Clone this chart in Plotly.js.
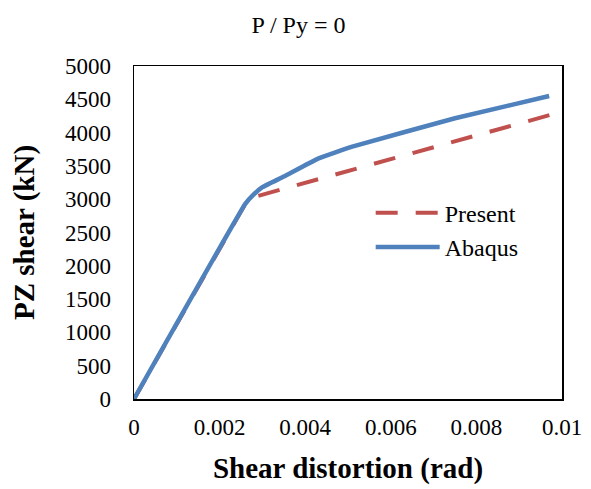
<!DOCTYPE html>
<html>
<head>
<meta charset="utf-8">
<script src="https://cdn.plot.ly/plotly-3.0.1.min.js"></script>
<style>html,body{margin:0;padding:0;background:#fff;}#chart{width:591px;height:489px;}</style>
</head>
<body>
<div id="chart"></div>
<script>
const presentX = [0, 0.0026, 0.0029, 0.01];
const presentY = [0, 2930, 3050, 4314];
const abaqusX = [0, 0.0026, 0.00278, 0.0030, 0.0035, 0.0043, 0.0051, 0.0075, 0.0097];
const abaqusY = [0, 2930, 3060, 3180, 3340, 3610, 3790, 4215, 4550];
const xTicks = [0, 0.002, 0.004, 0.006, 0.008, 0.01];
const xTickLabels = ['0', '0.002', '0.004', '0.006', '0.008', '0.01'];
const yTicks = [0, 500, 1000, 1500, 2000, 2500, 3000, 3500, 4000, 4500, 5000];

const FONT = '"Times New Roman", "Liberation Serif", serif';

const traces = [
  {x: presentX, y: presentY, name: 'Present', mode: 'lines',
   line: {color: '#C0504D', width: 4, dash: '22px,18px'}},
  {x: abaqusX, y: abaqusY, name: 'Abaqus', mode: 'lines',
   line: {color: '#4F81BD', width: 4.5, shape: 'spline', smoothing: 0.3}}
];

const layout = {
  width: 591, height: 489,
  margin: {l: 134, r: 28.5, t: 66, b: 90},
  paper_bgcolor: '#fff', plot_bgcolor: '#fff',
  font: {family: FONT, size: 23, color: '#000'},
  title: {text: 'P / Py = 0', x: 0.505, xref: 'container', y: 1 - 25/489, yref: 'container', yanchor: 'middle',
          font: {family: FONT, size: 24, color: '#000'}},
  xaxis: {range: [0, 0.01], tickvals: xTicks, ticktext: xTickLabels, showgrid: false, zeroline: false,
          showline: true, mirror: true, linecolor: '#000', linewidth: 1.5, ticks: '',
          tickfont: {family: FONT, size: 23}, ticklabelstandoff: 7,
          title: {text: '<b>Shear distortion (rad)</b>', font: {family: FONT, size: 29}, standoff: 18}},
  yaxis: {range: [0, 5000], tickvals: yTicks, showgrid: false, zeroline: false,
          showline: true, mirror: true, linecolor: '#000', linewidth: 1.5, ticks: '',
          tickfont: {family: FONT, size: 23}, ticklabelstandoff: 17,
          title: {text: '<b>PZ shear (kN)</b>', font: {family: FONT, size: 29}, standoff: 22}},
  showlegend: true,
  legend: {x: 0.553, y: 0.507, xanchor: 'left', yanchor: 'middle', bgcolor: 'rgba(0,0,0,0)',
           font: {family: FONT, size: 24}, tracegroupgap: 0, itemwidth: 64}
};

Plotly.newPlot('chart', traces, layout, {displayModeBar: false, staticPlot: true});
</script>
</body>
</html>
